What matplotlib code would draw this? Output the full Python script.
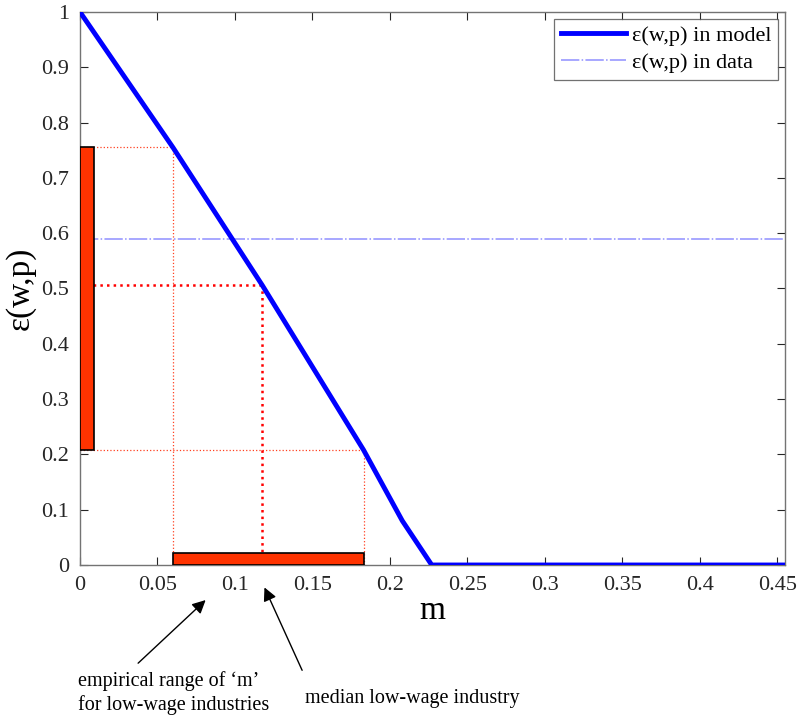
import matplotlib
matplotlib.use('Agg')
import matplotlib.pyplot as plt
import matplotlib.patches as patches
import numpy as np

plt.rcParams['font.family'] = ['Liberation Serif', 'DejaVu Serif']
plt.rcParams['mathtext.fontset'] = 'dejavuserif'

# Model curve: elasticity vs m
m_model = [0.0, 0.06, 0.1176, 0.183, 0.208, 0.227, 0.455]
eps_model = [1.0, 0.755, 0.506, 0.208, 0.08, 0.0, 0.0]

# Data level
eps_data = 0.59

# Empirical range of m and median industry
m_low, m_med, m_high = 0.06, 0.1176, 0.183
eps_at_low, eps_at_med, eps_at_high = 0.755, 0.506, 0.208

xticks = [0, 0.05, 0.1, 0.15, 0.2, 0.25, 0.3, 0.35, 0.4, 0.45]
xtick_labels = ['0', '0.05', '0.1', '0.15', '0.2', '0.25', '0.3', '0.35', '0.4', '0.45']
yticks = [0, 0.1, 0.2, 0.3, 0.4, 0.5, 0.6, 0.7, 0.8, 0.9, 1]
ytick_labels = ['0', '0.1', '0.2', '0.3', '0.4', '0.5', '0.6', '0.7', '0.8', '0.9', '1']

fig = plt.figure(figsize=(8, 7.19), dpi=100)
ax = fig.add_axes([0.1, 0.2142, 0.88125, 0.7691])

bar_red = '#ff3300'
dot_red = '#ff4020'

# thin dotted guides to the range ends
ax.plot([0, m_low], [eps_at_low, eps_at_low], ':', color=dot_red, lw=0.9)
ax.plot([m_low, m_low], [0, eps_at_low], ':', color=dot_red, lw=0.9)
ax.plot([0, m_high], [eps_at_high, eps_at_high], ':', color=dot_red, lw=0.9)
ax.plot([m_high, m_high], [0, eps_at_high], ':', color=dot_red, lw=0.9)
# median guides, thicker
ax.plot([0, m_med], [eps_at_med, eps_at_med], ':', color='red', lw=1.8)
ax.plot([m_med, m_med], [0, eps_at_med], ':', color='red', lw=1.8)

# range bars
ax.add_patch(patches.Rectangle((0, eps_at_high), 0.009, eps_at_low - eps_at_high,
                               facecolor=bar_red, edgecolor='black', lw=1.2, zorder=4))
ax.add_patch(patches.Rectangle((m_low, 0), m_high - m_low, 0.022,
                               facecolor=bar_red, edgecolor='black', lw=1.2, zorder=4))

ax.plot(m_model, eps_model, color='#0000ff', lw=3.5, label='ε(w,p) in model',
        solid_joinstyle='miter', zorder=5)
ax.axhline(eps_data, color='#9090ff', lw=1.1, ls=(0, (12, 1.5, 1, 1.5)),
           label='ε(w,p) in data', zorder=3)

ax.set_xlim(0, 0.455)
ax.set_ylim(0, 1)
ax.set_xticks(xticks)
ax.set_xticklabels(xtick_labels)
ax.set_yticks(yticks)
ax.set_yticklabels(ytick_labels)
ax.tick_params(direction='in', length=6, width=0.8, top=True, right=True,
               labelsize=16, colors='0.15', pad=8)
for s in ax.spines.values():
    s.set_color('0.45')
    s.set_linewidth(1)

ax.set_xlabel('m', fontsize=24, labelpad=0)
ax.set_ylabel('ε(w,p)', fontsize=24, labelpad=4)

leg = ax.legend(loc='upper right', fontsize=16, frameon=True, fancybox=False,
                edgecolor='0.3', borderaxespad=0.3, handlelength=2.9,
                handletextpad=0.3, borderpad=0.3, labelspacing=0.3)
leg.get_frame().set_linewidth(0.9)

# annotations below the axis
ax.annotate('', xy=(0.0824, -0.060), xytext=(0.0362, -0.181),
            xycoords='data', textcoords='data', annotation_clip=False,
            arrowprops=dict(arrowstyle='-|>', color='black', lw=1, mutation_scale=20))
ax.annotate('', xy=(0.1183, -0.036), xytext=(0.1441, -0.195),
            xycoords='data', textcoords='data', annotation_clip=False,
            arrowprops=dict(arrowstyle='-|>', color='black', lw=1, mutation_scale=20))
ax.text(-0.001, -0.192, 'empirical range of ‘m’\nfor low-wage industries',
        fontsize=14.5, ha='left', va='top', linespacing=1.25, clip_on=False)
ax.text(0.145, -0.225, 'median low-wage industry',
        fontsize=14.5, ha='left', va='top', clip_on=False)

fig.savefig('out.png', dpi=100)
